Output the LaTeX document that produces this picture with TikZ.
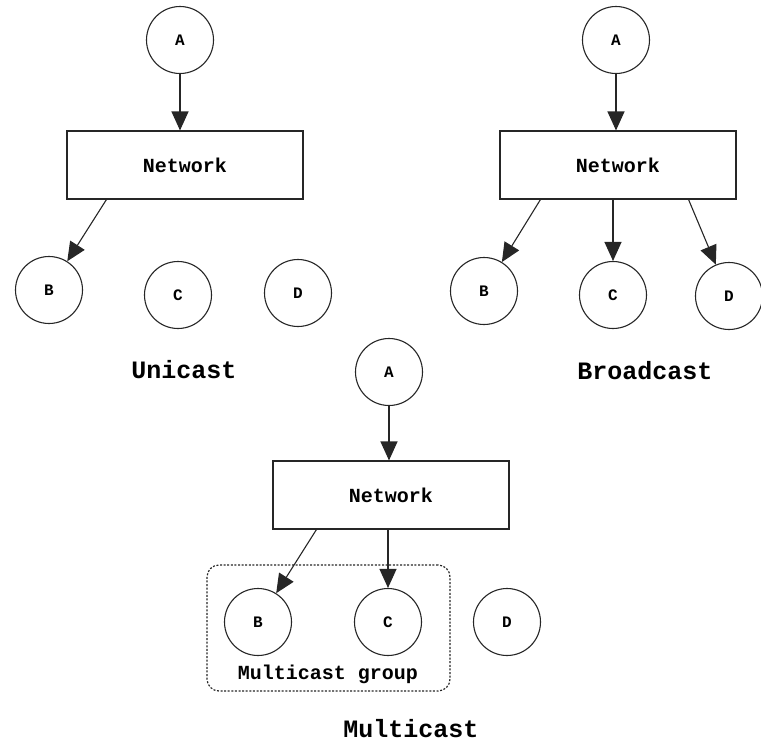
\documentclass[tikz,border=0pt]{standalone}
\usepackage{fontspec}
\setmainfont{Liberation Mono}
\usetikzlibrary{arrows.meta}
\begin{document}
\begin{tikzpicture}[x=1pt,y=-1pt,
  ink/.style={draw=black!85,line width=1.1pt},
  host/.style={ink,circle,minimum size=67pt,inner sep=0pt,font=\fontsize{16}{16}\selectfont\bfseries},
  net/.style={ink,rectangle,minimum width=236pt,minimum height=68pt,inner sep=0pt,font=\fontsize{20}{20}\selectfont\bfseries},
  flow/.style={ink,-{Triangle[width=17pt,length=19pt]}},
  title/.style={font=\fontsize{25}{25}\selectfont\bfseries,inner sep=1pt},
  group/.style={draw=black!85,line width=1.2pt,dash pattern=on 2pt off 1.6pt,rounded corners=12pt}
]
\useasboundingbox (0,0) rectangle (761,745);

% ---- Unicast ----
\node[host] (uA) at (180,40) {A};
\node[net]  (uN) at (185,165) {Network};
\node[host] (uB) at (49,290) {B};
\node[host] (uC) at (178,295) {C};
\node[host] (uD) at (298,293) {D};
\coordinate (uS) at ([xshift=40pt]uN.south west);
\draw[flow] (uA) -- (uA |- uN.north);
\draw[flow] (uS) -- (uB);
\node[title] (uT) at (184,370) {Unicast};

% ---- Broadcast ----
\node[host] (bA) at (616,40) {A};
\node[net]  (bN) at (618,165) {Network};
\node[host] (bB) at (484,291) {B};
\node[host] (bC) at (613,295) {C};
\node[host] (bD) at (729,296) {D};
\coordinate (bS1) at ([xshift=41pt]bN.south west);
\coordinate (bS2) at (bC |- bN.south);
\coordinate (bS3) at ([xshift=-48pt]bN.south east);
\draw[flow] (bA) -- (bA |- bN.north);
\draw[flow] (bS1) -- (bB);
\draw[flow] (bS2) -- (bC);
\draw[flow] (bS3) -- (bD);
\node[title] (bT) at (645,371) {Broadcast};

% ---- Multicast ----
\node[host] (mA) at (389,372) {A};
\node[net]  (mN) at (391,495) {Network};
\node[host] (mB) at (258,622) {B};
\node[host] (mC) at (388,622) {C};
\node[host] (mD) at (507,622) {D};
\coordinate (mS1) at ([xshift=44pt]mN.south west);
\coordinate (mS2) at (mC |- mN.south);
\draw[flow] (mA) -- (mA |- mN.north);
\draw[flow] (mS1) -- (mB);
\draw[flow] (mS2) -- (mC);
\node[group,minimum width=243pt,minimum height=126pt,inner sep=0pt] (mG) at (328.5,628) {};
\node[font=\fontsize{20}{20}\selectfont\bfseries] (mGL) at (328,674) {Multicast group};
\node[title] (mT) at (411,729) {Multicast};
\end{tikzpicture}
\end{document}
